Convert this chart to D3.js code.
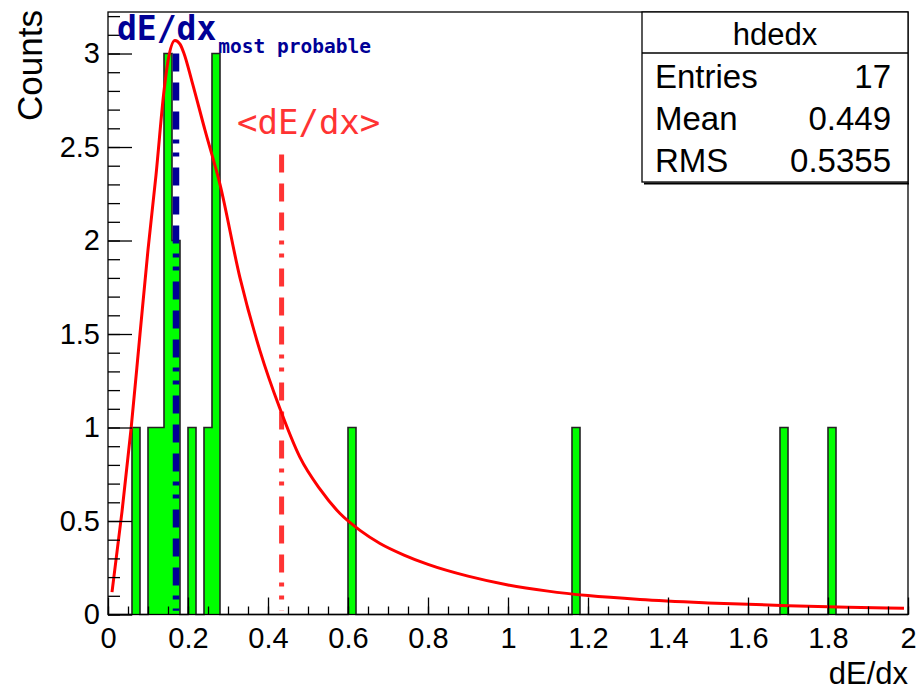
<!DOCTYPE html>
<html>
<head>
<meta charset="utf-8">
<script src="https://cdn.jsdelivr.net/npm/d3@7"></script>
<style>
  html, body { margin: 0; padding: 0; background: #ffffff; }
  svg { display: block; }
</style>
</head>
<body>
<svg id="chart" width="920" height="691"></svg>
<script>
// ---------------- data ----------------
const histName = "hdedx";
const xMin = 0, xMax = 2, nBins = 100;
// counts per bin (bin width 0.02)
const binCounts = [
  0,0,0,1,0,1,1,3,2,0,
  1,0,1,3,0,0,0,0,0,0,
  0,0,0,0,0,0,0,0,0,0,
  1,0,0,0,0,0,0,0,0,0,
  0,0,0,0,0,0,0,0,0,0,
  0,0,0,0,0,0,0,0,1,0,
  0,0,0,0,0,0,0,0,0,0,
  0,0,0,0,0,0,0,0,0,0,
  0,0,0,0,1,0,0,0,0,0,
  1,0,0,0,0,0,0,0,0,0
];
// fitted (Landau-like) curve
const fitX = [0.01,0.035,0.058,0.08,0.10,0.12,0.14,0.15,0.1675,0.18,0.19,0.21,0.2425,0.28,0.33,0.38,0.43,0.48,0.53,0.58,0.63,0.68,0.74,0.80,0.90,1.00,1.10,1.20,1.33,1.50,1.70,1.85,1.99];
const fitY = [0.12,0.55,1.00,1.50,1.95,2.35,2.80,2.96,3.07,3.05,3.00,2.85,2.59,2.30,1.80,1.41,1.10,0.84,0.67,0.54,0.45,0.38,0.318,0.268,0.205,0.158,0.125,0.101,0.080,0.062,0.047,0.039,0.033];
// markers
const mostProbableX = 0.17, mostProbableTop = 3.0;
const meanLineX = 0.434, meanLineTop = 2.46, lineBottom = 0.02;
// axes
const yMax = 3.222;
const xMajorTicks = [0,0.2,0.4,0.6,0.8,1,1.2,1.4,1.6,1.8,2];
const xTickLabels = ["0","0.2","0.4","0.6","0.8","1","1.2","1.4","1.6","1.8","2"];
const yMajorTicks = [0,0.5,1,1.5,2,2.5,3];
const yTickLabels = ["0","0.5","1","1.5","2","2.5","3"];
const xTitle = "dE/dx", yTitle = "Counts";
// stats box
const statsNames = ["Entries","Mean","RMS"];
const statsValues = ["17","0.449","0.5355"];

// ---------------- layout ----------------
const svg = d3.select("#chart");
const L = 108, R = 908, T = 12, B = 614.5;
const x = d3.scaleLinear().domain([xMin, xMax]).range([L, R]);
const y = d3.scaleLinear().domain([0, yMax]).range([B, T]);
const font = "'Liberation Sans', Arial, Helvetica, sans-serif";
const mono = "'DejaVu Sans Mono', 'Liberation Mono', monospace";

svg.append("rect").attr("width",920).attr("height",691).attr("fill","#ffffff");

// histogram bars
const binW = (xMax - xMin) / nBins;
const bins = binCounts.map((c,i) => ({x0: xMin + i*binW, x1: xMin + (i+1)*binW, c}));
svg.append("g").selectAll("rect").data(bins.filter(d => d.c > 0)).join("rect")
  .attr("x", d => x(d.x0)).attr("width", d => x(d.x1) - x(d.x0))
  .attr("y", d => y(d.c)).attr("height", d => y(0) - y(d.c))
  .attr("fill", "#00ff00");
// histogram contour
let pts = [[x(xMin), y(0)]];
bins.forEach(d => { pts.push([x(d.x0), y(d.c)]); pts.push([x(d.x1), y(d.c)]); });
pts.push([x(xMax), y(0)]);
svg.append("path").attr("d", d3.line()(pts)).attr("fill","none")
  .attr("stroke","#222").attr("stroke-width",1.6);

// vertical marker lines
const dashPat = "18,11,18,11,18,10,4,9,4,11";
svg.append("line").attr("x1", x(mostProbableX)).attr("x2", x(mostProbableX))
  .attr("y1", y(mostProbableTop)).attr("y2", y(lineBottom))
  .attr("stroke","#000096").attr("stroke-width",6.5).attr("stroke-dasharray",dashPat);
svg.append("line").attr("x1", x(meanLineX)).attr("x2", x(meanLineX))
  .attr("y1", y(meanLineTop)).attr("y2", y(lineBottom))
  .attr("stroke","#ff3333").attr("stroke-width",5).attr("stroke-dasharray",dashPat);

// fit curve
const fitPts = fitX.map((v,i) => [x(v), y(fitY[i])]);
svg.append("path").attr("d", d3.line().curve(d3.curveMonotoneX)(fitPts))
  .attr("fill","none").attr("stroke","#ff0000").attr("stroke-width",3);

// axes
function styleAxis(g){ g.select(".domain").remove(); g.selectAll("line").attr("stroke","#000").attr("stroke-width",1.3); g.selectAll("text").attr("font-family",font).attr("fill","#000"); }
const xMinor = d3.range(0, 2.0001, 0.05).map(v => +v.toFixed(2));
svg.append("g").attr("transform",`translate(0,${B})`)
  .call(d3.axisBottom(x).tickValues(xMinor).tickSizeInner(-8).tickSizeOuter(0).tickFormat(""))
  .call(styleAxis);
svg.append("g").attr("transform",`translate(0,${B})`)
  .call(d3.axisBottom(x).tickValues(xMajorTicks).tickSizeInner(-17).tickSizeOuter(0).tickPadding(13)
    .tickFormat((d,i) => xTickLabels[i]))
  .call(styleAxis)
  .call(g => g.selectAll("text").attr("font-size",29));
const yMinor = d3.range(0, 3.2001, 0.1).map(v => +v.toFixed(1));
svg.append("g").attr("transform",`translate(${L},0)`)
  .call(d3.axisLeft(y).tickValues(yMinor).tickSizeInner(-12).tickSizeOuter(0).tickFormat(""))
  .call(styleAxis);
svg.append("g").attr("transform",`translate(${L},0)`)
  .call(d3.axisLeft(y).tickValues(yMajorTicks).tickSizeInner(-24).tickSizeOuter(0).tickPadding(8)
    .tickFormat((d,i) => yTickLabels[i]))
  .call(styleAxis)
  .call(g => g.selectAll("text").attr("font-size",29));

// frame
svg.append("rect").attr("x",L).attr("y",T).attr("width",R-L).attr("height",B-T)
  .attr("fill","none").attr("stroke","#000").attr("stroke-width",1.3);

// axis titles
svg.append("text").attr("x",R).attr("y",684).attr("text-anchor","end")
  .attr("font-family",font).attr("font-size",31).text(xTitle);
svg.append("text").attr("transform",`translate(42,${T-2}) rotate(-90)`).attr("text-anchor","end")
  .attr("font-family",font).attr("font-size",35).text(yTitle);

// annotations
const mp = svg.append("text").attr("x",117).attr("y",40).attr("font-family",mono)
  .attr("font-weight","bold").attr("fill","#000096");
mp.append("tspan").attr("font-size",33).text("dE/dx");
mp.append("tspan").attr("font-size",19.5).attr("dx",2).attr("dy",13).text("most probable");
svg.append("text").attr("x",237).attr("y",134).attr("font-family",mono)
  .attr("font-size",34).attr("fill","#ff3333").text("<dE/dx>");

// stats box
const sx = 642, sy = 12, sw = 266, sh = 170;
svg.append("line").attr("x1",sx+2).attr("x2",sx+sw+1).attr("y1",sy+sh+1.5).attr("y2",sy+sh+1.5).attr("stroke","#000").attr("stroke-width",2);
svg.append("rect").attr("x",sx).attr("y",sy).attr("width",sw).attr("height",sh)
  .attr("fill","#fff").attr("stroke","#000").attr("stroke-width",1.3);
svg.append("line").attr("x1",sx).attr("x2",sx+sw).attr("y1",53).attr("y2",53).attr("stroke","#000").attr("stroke-width",1.3);
svg.append("text").attr("x",sx+sw/2).attr("y",45).attr("text-anchor","middle")
  .attr("font-family",font).attr("font-size",31).text(histName);
statsNames.forEach((n,i) => {
  const yy = 88 + i*42;
  svg.append("text").attr("x",655).attr("y",yy).attr("font-family",font).attr("font-size",33).text(n);
  svg.append("text").attr("x",891).attr("y",yy).attr("text-anchor","end").attr("font-family",font).attr("font-size",33).text(statsValues[i]);
});
</script>
</body>
</html>
